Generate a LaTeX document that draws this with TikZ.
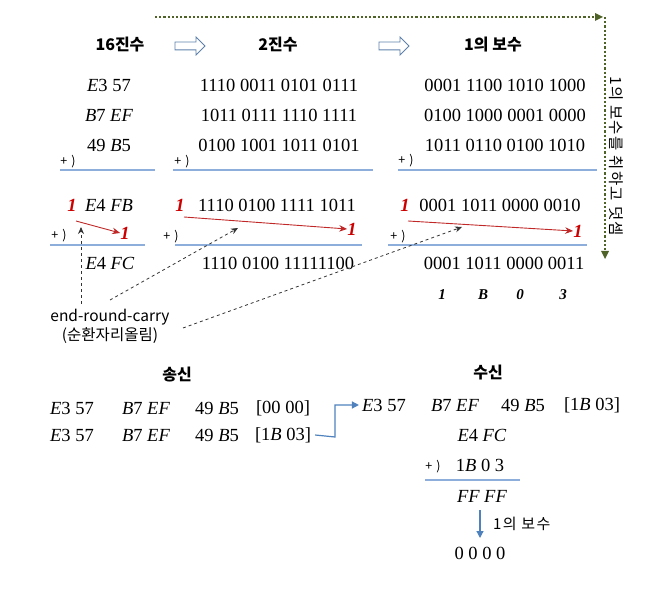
\documentclass[tikz,border=0pt]{standalone}
\usepackage{fontspec}
\setmainfont{Liberation Serif}
\newfontfamily\kr{Noto Sans CJK KR}
\newfontfamily\krw{Noto Sans CJK KR}[LetterSpace=9]
\usetikzlibrary{arrows.meta,shapes.arrows}
\definecolor{lineblue}{RGB}{141,174,218}
\definecolor{arrblue}{RGB}{79,129,189}
\definecolor{carryred}{RGB}{204,0,0}
\definecolor{arrred}{RGB}{192,40,40}
\definecolor{olivegreen}{RGB}{79,98,40}
\newcommand{\hx}[1]{\textit{#1}}
\begin{document}
\begin{tikzpicture}[x=1pt,y=-1pt,
  every node/.style={inner sep=0pt,anchor=center},
  num/.style={font=\fontsize{18.5}{22}\selectfont},
  hdr/.style={font=\kr\bfseries\fontsize{16}{19}\selectfont},
  plus/.style={font=\kr\fontsize{12.5}{14}\selectfont},
  lbl/.style={font=\kr\fontsize{15.5}{19}\selectfont},
  carry/.style={font=\bfseries\itshape\fontsize{18.5}{22}\selectfont,text=carryred},
  bits/.style={font=\bfseries\itshape\fontsize{15}{18}\selectfont},
  sumline/.style={draw=lineblue,line width=1.1pt},
  redarr/.style={draw=arrred,line width=0.9pt,-{Stealth[length=8pt,width=6.5pt]}},
  dasharr/.style={draw=black!80,dashed,line width=0.8pt,-{Stealth[length=7pt,width=6pt]}},
  greendot/.style={draw=olivegreen,dotted,line width=2.2pt,-{Triangle[length=8pt,width=8pt,line width=0pt]}},
  bluearr/.style={draw=arrblue,line width=1.2pt,-{Triangle[length=7pt,width=7pt]}},
  hollow/.style={single arrow,draw=arrblue!70!gray,line width=0.8pt,fill=white,minimum height=30pt,text height=7pt,text depth=0pt,text width=0pt,single arrow head extend=5pt,inner sep=0pt}
]
\useasboundingbox (0,0) rectangle (669,601);

% green dotted arrows
\coordinate (g1) at (155,17);
\coordinate (g2) at (603,17);
\coordinate (g3) at (605,17);
\coordinate (g4) at (605,259);
\draw[greendot] (g1) -- (g2);
\draw[greendot] (g3) -- (g4);
\node[rotate=-90,font=\krw\fontsize{15.5}{18}\selectfont] (vt) at (616,156) {1의 보수를 취하고 덧셈};

% headers
\node[hdr] (h16) at (120,45) {16진수};
\node[hollow] (a1) at (188,46) {};
\node[hdr] (h2) at (278,45) {2진수};
\node[hollow] (a2) at (392,46) {};
\node[hdr] (h1c) at (493,45) {1의 보수};

% first block
\node[num] (x1) at (109,85) {\hx{E}3 57};
\node[num] (x2) at (109,115) {\hx{B}7 \hx{EF}};
\node[num] (x3) at (109,145) {49 \hx{B}5};
\node[num] (b1) at (279,85) {1110 0011 0101 0111};
\node[num] (b2) at (279,115) {1011 0111 1110 1111};
\node[num] (b3) at (279,145) {0100 1001 1011 0101};
\node[num] (c1) at (505,85) {0001 1100 1010 1000};
\node[num] (c2) at (505,115) {0100 1000 0001 0000};
\node[num] (c3) at (505,145) {1011 0110 0100 1010};
\node[plus] (p1) at (68,162) {+\,\,)};
\node[plus] (p2) at (182,162) {+\,\,)};
\node[plus] (p3) at (406,161) {+\,\,)};
\coordinate (l1a) at (60,170);  \coordinate (l1b) at (155,170);
\coordinate (l2a) at (173,170); \coordinate (l2b) at (373,170);
\coordinate (l3a) at (398,170); \coordinate (l3b) at (597,170);
\draw[sumline] (l1a) -- (l1b);
\draw[sumline] (l2a) -- (l2b);
\draw[sumline] (l3a) -- (l3b);

% second block, col 1
\node[carry] (r1a) at (72,205) {1};
\node[num] (s1) at (109,205) {\hx{E}4 \hx{FB}};
\node[carry] (r1b) at (125,233) {1};
\coordinate (ra1) at (76,221);
\draw[redarr] (ra1) -- (r1b.west);
\node[plus] (p4) at (59,236) {+\,\,)};
\coordinate (l4a) at (50,245); \coordinate (l4b) at (145,245);
\draw[sumline] (l4a) -- (l4b);
\node[num] (t1) at (110,263) {\hx{E}4 \hx{FC}};

% col 2
\node[carry] (r2a) at (180,205) {1};
\node[num] (s2) at (277,205) {1110 0100 1111 1011};
\node[carry] (r2b) at (352,229) {1};
\coordinate (ra2) at (184,217);
\draw[redarr] (ra2) -- (r2b.west);
\node[plus] (p5) at (171,237) {+\,\,)};
\coordinate (l5a) at (175,245); \coordinate (l5b) at (362,245);
\draw[sumline] (l5a) -- (l5b);
\node[num] (t2) at (278,263) {1110 0100 11111100};

% col 3
\node[carry] (r3a) at (405,205) {1};
\node[num] (s3) at (500,205) {0001 1011 0000 0010};
\node[carry] (r3b) at (578,231) {1};
\coordinate (ra3) at (408,221);
\draw[redarr] (ra3) -- (r3b.west);
\node[plus] (p6) at (398,237) {+\,\,)};
\coordinate (l6a) at (388,245); \coordinate (l6b) at (587,245);
\draw[sumline] (l6a) -- (l6b);
\node[num] (t3) at (504,263) {0001 1011 0000 0011};
\node[bits] (k1) at (442,295) {1};
\node[bits] (k2) at (483,295) {B};
\node[bits] (k3) at (520,295) {0};
\node[bits] (k4) at (563,295) {3};

% end-round-carry label and dashed arrows
\node[lbl,align=center] (erc) at (110,326) {end-round-carry\\(순환자리올림)};
\coordinate (d1s) at (81,304); \coordinate (d1e) at (81,227);
\coordinate (d2s) at (110,300); \coordinate (d2e) at (238,228);
\coordinate (d3s) at (183,328); \coordinate (d3e) at (462,227);
\draw[dasharr] (d1s) -- (d1e);
\draw[dasharr] (d2s) -- (d2e);
\draw[dasharr] (d3s) -- (d3e);

% bottom: send
\node[hdr] (send) at (177,375) {송신};
\node[num] (sa1) at (72,408) {\hx{E}3 57};
\node[num] (sa2) at (146,408) {\hx{B}7 \hx{EF}};
\node[num] (sa3) at (217,408) {49 \hx{B}5};
\node[num] (sa4) at (283,408) {[00 00]};
\node[num] (sb1) at (72,435) {\hx{E}3 57};
\node[num] (sb2) at (146,435) {\hx{B}7 \hx{EF}};
\node[num] (sb3) at (217,435) {49 \hx{B}5};
\node[num] (sb4) at (283,435) {[1\hx{B} 03]};

% bottom: receive
\node[hdr] (recv) at (488,373) {수신};
\node[num] (ra) at (384,405) {\hx{E}3 57};
\node[num] (rb) at (455,405) {\hx{B}7 \hx{EF}};
\node[num] (rc) at (523,405) {49 \hx{B}5};
\node[num] (rd) at (592,405) {[1\hx{B} 03]};
\coordinate (bk) at (335,437);
\draw[bluearr] ([xshift=4pt]sb4.east) -- (bk) |- ([xshift=-3pt]ra.west);

\node[num] (q1) at (482,435) {\hx{E}4 \hx{FC}};
\node[plus] (p7) at (433,467) {+\,\,)};
\node[num] (q2) at (480,465) {1\hx{B} 0 3};
\coordinate (l7a) at (425,480); \coordinate (l7b) at (520,480);
\draw[sumline] (l7a) -- (l7b);
\node[num] (q3) at (482,496) {\hx{FF FF}};
\node[num] (q4) at (480,553) {0 0 0 0};
\coordinate (v1) at (480,510); \coordinate (v2) at (480,538);
\draw[bluearr] (v1) -- (v2);
\node[anchor=west,font=\krw\fontsize{15}{18}\selectfont] (oc) at (493,524) {1의 보수};
\end{tikzpicture}
\end{document}
